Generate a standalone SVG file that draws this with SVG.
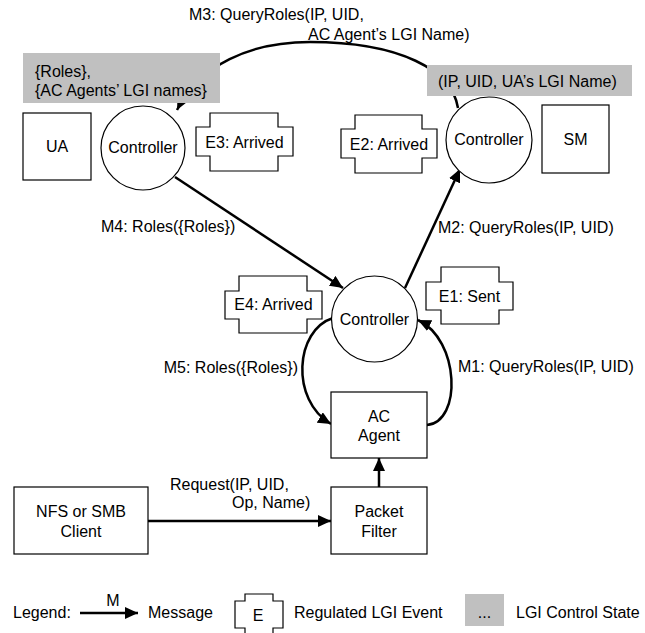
<svg xmlns="http://www.w3.org/2000/svg" width="645" height="633" viewBox="0 0 645 633">
<style>
text{font-family:"Liberation Sans",Arial,sans-serif;font-size:16px;fill:#000}
.c{text-anchor:middle}
.e{text-anchor:end}
.node{fill:#fff;stroke:#000;stroke-width:1.2}
.state{fill:#c0c0c0;stroke:none}
.conn{fill:none;stroke:#000;stroke-width:2.5}
</style>
<defs>
<marker id="ah" markerUnits="userSpaceOnUse" markerWidth="14" markerHeight="12" refX="13" refY="6" orient="auto">
<path d="M0,0 L13,6 L0,12 Z" fill="#000"/>
</marker>
</defs>

<g id="connectors">
<path id="m3" class="conn" d="M458,108 C452,70 400,42 310,42 C250,42 200,65 177,110" marker-end="url(#ah)"/>
<path id="m4" class="conn" d="M175,177 L343,288" marker-end="url(#ah)"/>
<path id="m2" class="conn" d="M405,288 L460,169" marker-end="url(#ah)"/>
<path id="m1" class="conn" d="M427,425 C462,422 460,340 418,320" marker-end="url(#ah)"/>
<path id="m5" class="conn" d="M333,318 C295,330 290,400 331,424" marker-end="url(#ah)"/>
<path id="pf-ac" class="conn" d="M379,487 L379,458" marker-end="url(#ah)"/>
<path id="req" class="conn" d="M148,521 L331,521" marker-end="url(#ah)"/>
</g>

<g id="labels">
<text x="189" y="20">M3: QueryRoles(IP, UID,</text>
<text x="308" y="40">AC Agent’s LGI Name)</text>
<text x="101" y="232">M4: Roles({Roles})</text>
<text x="438" y="233">M2: QueryRoles(IP, UID)</text>
<text x="298" y="373" class="e">M5: Roles({Roles})</text>
<text x="458" y="372">M1: QueryRoles(IP, UID)</text>
<text x="170" y="490">Request(IP, UID,</text>
<text x="232" y="508">Op, Name)</text>
</g>

<g id="state-left">
<rect class="state" x="23" y="53" width="197" height="50"/>
<text x="35" y="77">{Roles},</text>
<text x="35" y="96">{AC Agents’ LGI names}</text>
</g>
<g id="state-right">
<rect class="state" x="427" y="65" width="205" height="31"/>
<text x="438" y="87">(IP, UID, UA’s LGI Name)</text>
</g>

<g id="ua">
<rect class="node" x="23" y="113" width="68" height="67"/>
<text x="57" y="152" class="c">UA</text>
</g>
<g id="controller-ua">
<circle class="node" cx="143" cy="148" r="42"/>
<text x="143" y="153" class="c">Controller</text>
</g>
<g id="e3">
<polygon class="node" points="210,113 278,113 278,127 293,127 293,156 278,156 278,171 210,171 210,156 196,156 196,127 210,127"/>
<text x="244.5" y="148" class="c">E3: Arrived</text>
</g>
<g id="e2">
<polygon class="node" points="355,115 422,115 422,129 437,129 437,158 422,158 422,173 355,173 355,158 341,158 341,129 355,129"/>
<text x="389" y="150" class="c">E2: Arrived</text>
</g>
<g id="controller-sm">
<circle class="node" cx="489" cy="140" r="43"/>
<text x="489" y="145" class="c">Controller</text>
</g>
<g id="sm">
<rect class="node" x="542" y="105" width="67" height="68"/>
<text x="575.5" y="145" class="c">SM</text>
</g>
<g id="e4">
<polygon class="node" points="239,276 307,276 307,291 322,291 322,319 307,319 307,333 239,333 239,319 225,319 225,291 239,291"/>
<text x="273.5" y="310" class="c">E4: Arrived</text>
</g>
<g id="controller-ac">
<circle class="node" cx="374.5" cy="319" r="43"/>
<text x="374.5" y="325" class="c">Controller</text>
</g>
<g id="e1">
<polygon class="node" points="441,267 499,267 499,282 513,282 513,310 499,310 499,324 441,324 441,310 426,310 426,282 441,282"/>
<text x="469.5" y="302" class="c">E1: Sent</text>
</g>
<g id="ac-agent">
<rect class="node" x="331" y="392" width="96" height="66"/>
<text x="379" y="422" class="c">AC</text>
<text x="379" y="441" class="c">Agent</text>
</g>
<g id="nfs-client">
<rect class="node" x="14" y="487" width="134" height="67"/>
<text x="81" y="517" class="c">NFS or SMB</text>
<text x="81" y="537" class="c">Client</text>
</g>
<g id="packet-filter">
<rect class="node" x="331" y="487" width="96" height="67"/>
<text x="379" y="517" class="c">Packet</text>
<text x="379" y="537" class="c">Filter</text>
</g>

<g id="legend">
<text x="13" y="618">Legend:</text>
<path class="conn" d="M80,613 L138,613" marker-end="url(#ah)"/>
<text x="113" y="606" class="c">M</text>
<text x="148" y="618">Message</text>
<polygon class="node" points="245,594 273,594 273,601 283,601 283,628 273,628 273,645 245,645 245,628 235,628 235,601 245,601"/>
<text x="258" y="621" class="c">E</text>
<text x="294" y="618">Regulated LGI Event</text>
<rect class="state" x="465" y="594" width="39" height="32"/>
<text x="484.5" y="618" class="c">...</text>
<text x="516" y="618">LGI Control State</text>
</g>
</svg>
